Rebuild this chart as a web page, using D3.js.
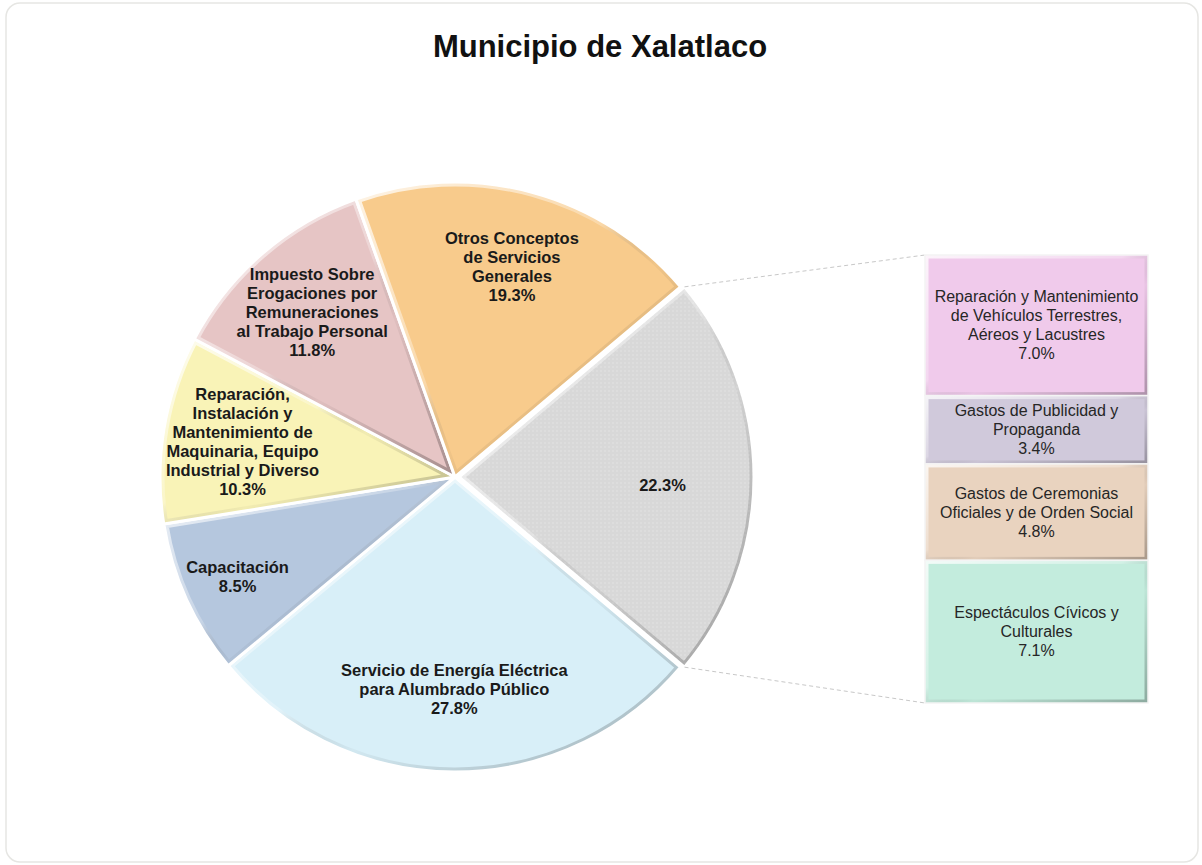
<!DOCTYPE html>
<html>
<head>
<meta charset="utf-8">
<script src="https://cdn.jsdelivr.net/npm/d3@7"></script>
<style>
  body { margin: 0; background: #fff; font-family: "Liberation Sans", Arial, sans-serif; }
</style>
</head>
<body>
<div id="chart"></div>
<script>
// pie slices, clockwise starting with the grouped "others" slice on the right
const pieNames = [
  "",
  "Servicio de Energía Eléctrica\npara Alumbrado Público",
  "Capacitación",
  "Reparación,\nInstalación y\nMantenimiento de\nMaquinaria, Equipo\nIndustrial y Diverso",
  "Impuesto Sobre\nErogaciones por\nRemuneraciones\nal Trabajo Personal",
  "Otros Conceptos\nde Servicios\nGenerales",
];
const pieValues = [22.3, 27.8, 8.5, 10.3, 11.8, 19.3];
const pieColors = ["#d8d8d8", "#d8eff8", "#b5c7de", "#f9f3b7", "#e6c5c5", "#f8cb8c"];

// stacked bar that breaks down the grey slice (top to bottom)
const barNames = [
  "Reparación y Mantenimiento\nde Vehículos Terrestres,\nAéreos y Lacustres",
  "Gastos de Publicidad y\nPropaganda",
  "Gastos de Ceremonias\nOficiales y de Orden Social",
  "Espectáculos Cívicos y\nCulturales",
];
const barValues = [7.0, 3.4, 4.8, 7.1];
const barColors = ["#f0caeb", "#d0c9db", "#e9d3bf", "#c3ecdd"];

const title = "Municipio de Xalatlaco";

const width = 1202, height = 865;
const cx = 455, cy = 477, r = 295;
const bar = { x: 925, w: 223, top: 255, bottom: 703 };
const labelFactor = [0.69, 0.72, 0.81, 0.73, 0.74, 0.74];
const fmt = (v) => d3.format(".1f")(v) + "%";

const svg = d3.select("#chart").append("svg")
  .attr("width", width)
  .attr("height", height);

const defs = svg.append("defs");

// light from top-left, shade at bottom-right
const bevel = defs.append("linearGradient")
  .attr("id", "bevel")
  .attr("x1", 0).attr("y1", 0).attr("x2", 1).attr("y2", 1);
bevel.append("stop").attr("offset", "0%").attr("stop-color", "#fff").attr("stop-opacity", 0.8);
bevel.append("stop").attr("offset", "45%").attr("stop-color", "#fff").attr("stop-opacity", 0.25);
bevel.append("stop").attr("offset", "60%").attr("stop-color", "#000").attr("stop-opacity", 0.03);
bevel.append("stop").attr("offset", "100%").attr("stop-color", "#000").attr("stop-opacity", 0.28);

const dots = defs.append("pattern")
  .attr("id", "dots")
  .attr("patternUnits", "userSpaceOnUse")
  .attr("width", 4).attr("height", 4);
dots.append("rect").attr("width", 4).attr("height", 4).attr("fill", pieColors[0]);
dots.append("circle").attr("cx", 2).attr("cy", 2).attr("r", 0.8).attr("fill", "#e4e4e4");

// card
svg.append("rect")
  .attr("x", 6).attr("y", 3)
  .attr("width", width - 10).attr("height", height - 6)
  .attr("rx", 14)
  .attr("fill", "#fff")
  .attr("stroke", "#e6e6e3")
  .attr("stroke-width", 1.5);

svg.append("text")
  .attr("x", 600).attr("y", 57)
  .attr("text-anchor", "middle")
  .attr("font-size", 31)
  .attr("font-weight", "bold")
  .attr("fill", "#111")
  .text(title);

// pie
const firstAngle = Math.PI / 2 - (pieValues[0] / 100) * Math.PI;
const pie = d3.pie().sort(null).value((d) => d)
  .startAngle(firstAngle).endAngle(firstAngle + 2 * Math.PI);
const arcs = pie(pieValues);
const arc = d3.arc().innerRadius(0).outerRadius(r);

const explode = (d, i) => (i === 0 ? 4 : 0);
const offset = (d, i) => {
  const a = (d.startAngle + d.endAngle) / 2;
  return [Math.sin(a) * explode(d, i), -Math.cos(a) * explode(d, i)];
};

const pieG = svg.append("g").attr("transform", `translate(${cx},${cy})`);

const slice = pieG.selectAll("g.slice")
  .data(arcs)
  .join("g")
  .attr("class", "slice")
  .attr("transform", (d, i) => `translate(${offset(d, i)})`);

slice.append("clipPath")
  .attr("id", (d, i) => `clip${i}`)
  .append("path")
  .attr("d", arc);

slice.append("path")
  .attr("d", arc)
  .attr("fill", (d, i) => (i === 0 ? "url(#dots)" : pieColors[i]));

slice.append("path")
  .attr("d", arc)
  .attr("fill", "none")
  .attr("stroke", "url(#bevel)")
  .attr("stroke-width", 9)
  .attr("clip-path", (d, i) => `url(#clip${i})`);

slice.append("path")
  .attr("d", arc)
  .attr("fill", "none")
  .attr("stroke", "#fff")
  .attr("stroke-width", 3)
  .attr("stroke-linejoin", "round");

// pie labels
const lineH = 19;
slice.each(function (d, i) {
  const a = (d.startAngle + d.endAngle) / 2;
  const lr = r * labelFactor[i];
  const lx = Math.sin(a) * lr, ly = -Math.cos(a) * lr + (i === 0 ? 8 : 0);
  const lines = pieNames[i] ? pieNames[i].split("\n").concat(fmt(d.data)) : [fmt(d.data)];
  const t = d3.select(this).append("text")
    .attr("text-anchor", "middle")
    .attr("font-size", 16.5)
    .attr("font-weight", "bold")
    .attr("fill", "#1a1a1a");
  lines.forEach((ln, k) => {
    t.append("tspan")
      .attr("x", lx)
      .attr("y", ly + (k - (lines.length - 1) / 2) * lineH + 6)
      .text(ln);
  });
});

// stacked bar
const y = d3.scaleLinear()
  .domain([0, d3.sum(barValues)])
  .range([bar.top, bar.bottom]);
const starts = barValues.map((v, i) => d3.sum(barValues.slice(0, i)));

// connector lines from the grey slice edges to the bar
const g0 = arcs[0];
const o0 = offset(g0, 0);
const corner = (ang) => [cx + o0[0] + Math.sin(ang) * r, cy + o0[1] - Math.cos(ang) * r];
const lineLinks = [
  [corner(g0.startAngle), [bar.x, y(0)]],
  [corner(g0.endAngle), [bar.x, y(d3.sum(barValues))]],
];
svg.append("g").selectAll("line")
  .data(lineLinks)
  .join("line")
  .attr("x1", (d) => d[0][0]).attr("y1", (d) => d[0][1])
  .attr("x2", (d) => d[1][0]).attr("y2", (d) => d[1][1])
  .attr("stroke", "#c8c8c8")
  .attr("stroke-width", 1)
  .attr("stroke-dasharray", "4,3");

const seg = svg.append("g").selectAll("g.seg")
  .data(barValues)
  .join("g")
  .attr("class", "seg");

seg.append("clipPath")
  .attr("id", (d, i) => `bclip${i}`)
  .append("rect")
  .attr("x", bar.x).attr("width", bar.w)
  .attr("y", (d, i) => y(starts[i]))
  .attr("height", (d, i) => y(starts[i] + d) - y(starts[i]));

seg.append("rect")
  .attr("x", bar.x).attr("width", bar.w)
  .attr("y", (d, i) => y(starts[i]))
  .attr("height", (d, i) => y(starts[i] + d) - y(starts[i]))
  .attr("fill", (d, i) => barColors[i]);

seg.append("rect")
  .attr("x", bar.x).attr("width", bar.w)
  .attr("y", (d, i) => y(starts[i]))
  .attr("height", (d, i) => y(starts[i] + d) - y(starts[i]))
  .attr("fill", "none")
  .attr("stroke", "url(#bevel)")
  .attr("stroke-width", 7)
  .attr("clip-path", (d, i) => `url(#bclip${i})`);

seg.append("rect")
  .attr("x", bar.x).attr("width", bar.w)
  .attr("y", (d, i) => y(starts[i]))
  .attr("height", (d, i) => y(starts[i] + d) - y(starts[i]))
  .attr("fill", "none")
  .attr("stroke", "#f4f4f4")
  .attr("stroke-width", 1.5);

seg.each(function (d, i) {
  const mid = (y(starts[i]) + y(starts[i] + d)) / 2;
  const lines = barNames[i].split("\n").concat(fmt(d));
  const t = d3.select(this).append("text")
    .attr("text-anchor", "middle")
    .attr("font-size", 16)
    .attr("fill", "#262626");
  lines.forEach((ln, k) => {
    t.append("tspan")
      .attr("x", bar.x + bar.w / 2)
      .attr("y", mid + (k - (lines.length - 1) / 2) * lineH + 5.5)
      .text(ln);
  });
});
</script>
</body>
</html>
